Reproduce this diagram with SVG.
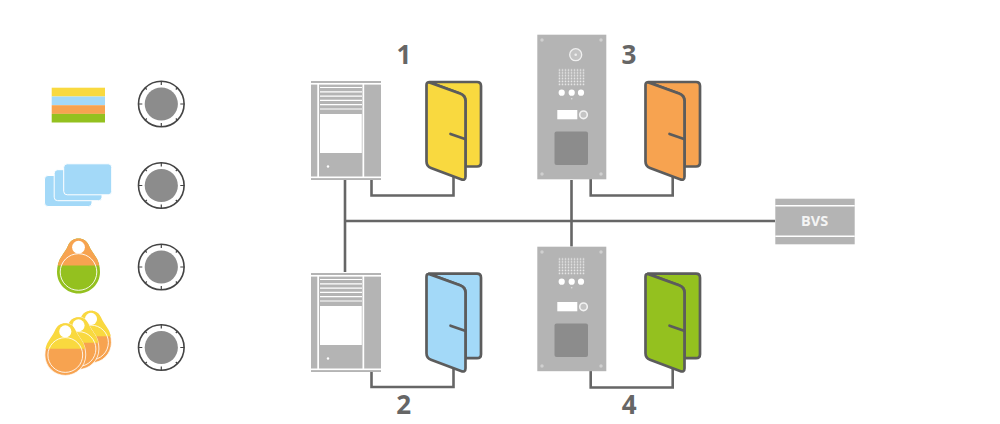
<svg xmlns="http://www.w3.org/2000/svg" xmlns:xlink="http://www.w3.org/1999/xlink" width="1000" height="424" viewBox="0 0 1000 424">
<style>
.wire{fill:none;stroke:#666;stroke-width:2.6}
.num{font-family:"Open Sans","Liberation Sans",sans-serif;font-weight:700;font-size:26px;fill:#666;text-anchor:middle}
.bvs{font-family:"Open Sans","Liberation Sans",sans-serif;font-weight:700;font-size:14.5px;fill:#f4f4f4;text-anchor:middle}
.door{stroke:#5c5c5c;stroke-width:2.7;stroke-linejoin:round;stroke-linecap:round}
.g{fill:#b4b4b4}
.w{fill:#fff}
.fy{fill:#f9d93f}.fb{fill:#a3d9f8}.fo{fill:#f7a350}.fg{fill:#94c11f}
</style>
<defs>
<g id="reader">
<circle r="22.8" fill="#fff" stroke="#444" stroke-width="1.6"/>
<circle r="16.6" fill="#8c8c8c"/>
<path d="M0-23V-19M0 23V19M-23 0H-19M23 0H19M-14.5-14.5L-16-16M14.5-14.5L16-16M-14.500 14.500L-16 16M14.500 14.500L16 16" stroke="#444" stroke-width="1.200" fill="none"/>
</g>
<g id="leaf">
<path d="M429 82H477Q481 82 481 86V162.500Q481 166.500 477 166.500H465.500V101Q465.500 95.500 460 93.500Z"/>
<path d="M429.500 82.600L460 93.500Q465.500 95.500 465.500 101V176.500Q465.500 181 461 179.300L431 168Q426.500 166.300 426.500 161.500V85Q426.500 81.600 429.500 82.600Z"/>
<path d="M450.500 134L465 139" fill="none"/>
</g>
<g id="intercom">
<rect x="311" y="81" width="70" height="99" class="g"/>
<rect x="311" y="83" width="70" height="1.600" class="w"/>
<rect x="311" y="176.500" width="70" height="1.600" class="w"/>
<rect x="317.300" y="84" width="1.700" height="93" class="w"/>
<rect x="362.500" y="84" width="1.700" height="93" class="w"/>
<rect x="320" y="114" width="41.800" height="39" class="w"/>
<path d="M320 87.500H362M320 91.800H362M320 96.100H362M320 100.400H362M320 104.700H362M320 109H362" stroke="#fff" stroke-width="1.200"/>
<circle cx="328" cy="166.500" r="1.200" class="w"/>
</g>
<pattern id="dots3" x="558" y="68.700" width="3" height="2.850" patternUnits="userSpaceOnUse">
<circle cx="1.500" cy="1.400" r="0.850" fill="#e9e9e9"/>
</pattern>
<pattern id="dots4" x="558" y="257.700" width="3" height="2.850" patternUnits="userSpaceOnUse">
<circle cx="1.500" cy="1.400" r="0.850" fill="#e9e9e9"/>
</pattern>
<path id="fob" d="M0-33.500C4.800-33.500 8.500-31 10.300-26.800C12-22.500 14.500-19.500 17-15.500C20-11.500 21.500-5.500 21.500 0C21.500 11.900 11.900 21.500 0 21.500C-11.900 21.500-21.500 11.900-21.500 0C-21.500-5.500-20-11.500-17-15.500C-14.500-19.500-12-22.500-10.300-26.800C-8.500-31-4.800-33.500 0-33.500Z"/>
<clipPath id="fobTop"><rect x="-30" y="-40" width="60" height="33.500"/></clipPath>
<g id="fobY">
<use xlink:href="#fob" class="fo" stroke="#fff" stroke-width="0.800"/>
<use xlink:href="#fob" class="fy" clip-path="url(#fobTop)"/>
<circle r="18.300" fill="none" stroke="#fff" stroke-width="0.900"/>
<circle cy="-24.800" r="6.400" class="w"/>
</g>
</defs>

<g id="connectors">
<path class="wire" d="M345 180V272M345 221H775M571.500 180V246.500"/>
<path class="wire" d="M371.500 179V195.500H453.500V175"/>
<path class="wire" d="M371.500 371V387H453.500V367"/>
<path class="wire" d="M590.700 179V195.500H672.700V175"/>
<path class="wire" d="M590.700 371V387.500H672.700V367"/>
</g>

<g id="legend-stack">
<rect x="51.700" y="87.700" width="53.300" height="8.800" class="fy"/>
<rect x="51.700" y="96.500" width="53.300" height="8.700" class="fb"/>
<rect x="51.700" y="105.200" width="53.300" height="8.700" class="fo"/>
<rect x="51.700" y="113.900" width="53.300" height="8.600" class="fg"/>
</g>
<g id="legend-cards" stroke="#fff" stroke-width="1">
<rect x="44.500" y="175.500" width="47.500" height="31" rx="3.500" class="fb"/>
<rect x="54.200" y="169.700" width="47.800" height="31" rx="3.500" class="fb"/>
<rect x="63.700" y="163.800" width="48" height="31" rx="3.500" class="fb"/>
</g>
<g id="legend-fob" transform="translate(78.500 272)">
<use xlink:href="#fob" class="fg"/>
<use xlink:href="#fob" class="fo" clip-path="url(#fobTop)"/>
<circle r="18.300" fill="none" stroke="#fff" stroke-width="0.900"/>
<circle cy="-24.800" r="6.400" class="w"/>
</g>
<g id="legend-fobs">
<use xlink:href="#fobY" transform="translate(91 342.500) scale(.95)"/>
<use xlink:href="#fobY" transform="translate(78.500 349) scale(.95)"/>
<use xlink:href="#fobY" transform="translate(65.300 355) scale(.95)"/>
</g>
<g id="reader-1"><use xlink:href="#reader" x="161.300" y="104"/></g>
<g id="reader-2"><use xlink:href="#reader" x="161.300" y="185.500"/></g>
<g id="reader-3"><use xlink:href="#reader" x="161.300" y="267"/></g>
<g id="reader-4"><use xlink:href="#reader" x="161.300" y="347.500"/></g>

<g id="station-1"><use xlink:href="#intercom"/></g>
<g id="station-2"><use xlink:href="#intercom" y="192"/></g>

<g id="station-3">
<rect x="537.300" y="34.700" width="69" height="144.600" class="g"/>
<g fill="#d0d0d0"><circle cx="542" cy="40" r="1.700"/><circle cx="601" cy="40" r="1.700"/><circle cx="542" cy="174" r="1.700"/><circle cx="601" cy="174" r="1.700"/></g>
<circle cx="575.700" cy="54.700" r="6" fill="#c4c4c4" stroke="#f0f0f0" stroke-width="1.300"/>
<circle cx="575.700" cy="54.700" r="1.300" fill="#eee"/>
<rect x="558" y="68.700" width="27" height="17.100" fill="url(#dots3)"/>
<circle cx="561.700" cy="92.700" r="3.100" class="w"/><circle cx="571.700" cy="92.700" r="3.100" class="w"/><circle cx="581" cy="92.700" r="3.100" class="w"/>
<circle cx="571.700" cy="98.700" r="0.800" fill="#ddd"/>
<rect x="557.300" y="110" width="20" height="9.300" class="w"/>
<circle cx="583.500" cy="114.800" r="3.800" fill="#c4c4c4" stroke="#f2f2f2" stroke-width="1.600"/>
<rect x="554.500" y="131.500" width="33.500" height="33.500" rx="2" fill="#8c8c8c"/>
</g>

<g id="station-4">
<rect x="537.300" y="246.700" width="69" height="124.500" class="g"/>
<g fill="#d0d0d0"><circle cx="542" cy="252" r="1.700"/><circle cx="601" cy="252" r="1.700"/><circle cx="542" cy="366" r="1.700"/><circle cx="601" cy="366" r="1.700"/></g>
<rect x="558" y="257.700" width="27" height="17.100" fill="url(#dots4)"/>
<circle cx="561.700" cy="281.700" r="3.100" class="w"/><circle cx="571.700" cy="281.700" r="3.100" class="w"/><circle cx="581" cy="281.700" r="3.100" class="w"/>
<circle cx="571.700" cy="287.700" r="0.800" fill="#ddd"/>
<rect x="557.300" y="302" width="20" height="9.300" class="w"/>
<circle cx="583.500" cy="306.800" r="3.800" fill="#c4c4c4" stroke="#f2f2f2" stroke-width="1.600"/>
<rect x="554.500" y="323.500" width="33.500" height="33.500" rx="2" fill="#8c8c8c"/>
</g>

<g id="door-1"><use xlink:href="#leaf" class="door fy"/></g>
<g id="door-2"><use xlink:href="#leaf" y="191.700" class="door fb"/></g>
<g id="door-3"><use xlink:href="#leaf" x="219" class="door fo"/></g>
<g id="door-4"><use xlink:href="#leaf" x="219" y="191.700" class="door fg"/></g>

<g id="bvs">
<rect x="775.300" y="198.700" width="79.400" height="45.600" class="g"/>
<rect x="775.300" y="205" width="79.400" height="1.500" class="w"/>
<rect x="775.300" y="235.500" width="79.400" height="1.500" class="w"/>
<text x="814.700" y="225.700" class="bvs">BVS</text>
</g>

<text x="404" y="64" class="num">1</text>
<text x="403.700" y="414" class="num">2</text>
<text x="629" y="64" class="num">3</text>
<text x="629.300" y="414" class="num">4</text>
</svg>
